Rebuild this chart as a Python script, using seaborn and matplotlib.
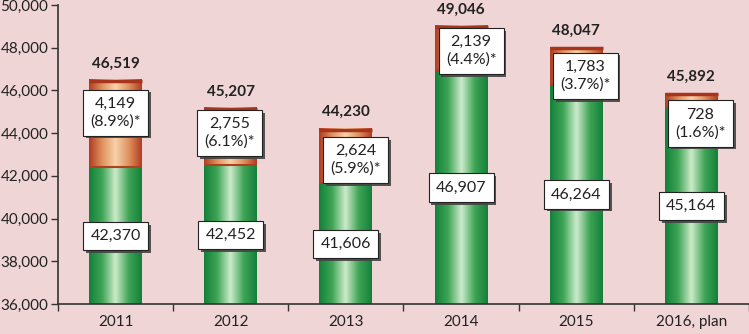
import numpy as np
import pandas as pd
import matplotlib
matplotlib.use("Agg")
import matplotlib.pyplot as plt
import matplotlib.patheffects as pe
from matplotlib.colors import LinearSegmentedColormap
from matplotlib.ticker import FuncFormatter, MultipleLocator
import seaborn as sns

years = ["2011", "2012", "2013", "2014", "2015", "2016, plan"]
base = [42370, 42452, 41606, 46907, 46264, 45164]
increment = [4149, 2755, 2624, 2139, 1783, 728]
totals = [46519, 45207, 44230, 49046, 48047, 45892]
shares = ["8.9%", "6.1%", "5.9%", "4.4%", "3.7%", "1.6%"]

# label nudges (pixels) for the increment boxes, as placed in the original
inc_dx = [0, -1, 10, 10, 9, 9]
inc_dy = [11, 4, -4, -3, -10, -23]

df = pd.DataFrame({"year": years, "base": base, "total": totals})

sns.set_theme(style="white")
plt.rcParams["font.family"] = ["Lato", "DejaVu Sans"]

bg = "#EFD5D5"
fig = plt.figure(figsize=(7.49, 3.34), dpi=100, facecolor=bg)
ax = fig.add_axes([0.0774, 0.0898, 0.9226, 0.8952])
ax.set_facecolor(bg)

sns.barplot(data=df, x="year", y="total", color="#E08850", width=0.46, ax=ax)
sns.barplot(data=df, x="year", y="base", color="#2E9A4A", width=0.46, ax=ax)

ymin, ymax = 36000, 50000
ax.set_ylim(ymin, ymax)
ax.set_xlim(-0.5, 5.5)

green_cmap = LinearSegmentedColormap.from_list(
    "g", ["#13803A", "#3FA556", "#CDEBCB", "#3FA556", "#13803A"])
orange_cmap = LinearSegmentedColormap.from_list(
    "o", ["#B03C22", "#E0925F", "#F8D2AA", "#E0925F", "#B03C22"])

n = len(years)
patches = list(ax.patches)
grad = np.linspace(0, 1, 256).reshape(1, -1)
for i, p in enumerate(patches):
    x0 = p.get_x()
    w = p.get_width()
    y0 = max(p.get_y(), ymin)
    h = p.get_height()
    top = p.get_y() + h
    cmap = orange_cmap if i < n else green_cmap
    p.set_facecolor("none")
    p.set_edgecolor("none")
    im = ax.imshow(grad, cmap=cmap, aspect="auto",
                   extent=[x0, x0 + w, y0, top], zorder=2,
                   interpolation="bicubic")
    im.set_clip_path(p)
    if i < n:
        ax.plot([x0, x0 + w], [top - 60, top - 60], color="#A8341C",
                lw=2.5, zorder=3, solid_capstyle="butt")
        ax.plot([x0, x0 + w], [base[i] + 40, base[i] + 40], color="#B0401E",
                lw=1.5, zorder=3, solid_capstyle="butt")

ax.set_xlim(-0.5, 5.5)
ax.set_ylim(ymin, ymax)

ax.yaxis.set_major_locator(MultipleLocator(2000))
ax.yaxis.set_major_formatter(FuncFormatter(lambda v, _: f"{int(v):,}"))
ax.set_xticks(range(n))
ax.set_xticklabels(years)
ax.set_xticks(np.arange(-0.5, n, 1.0), minor=True)
ax.tick_params(axis="x", which="major", bottom=False, length=0, pad=8,
               labelsize=11, colors="#222222")
ax.tick_params(axis="x", which="minor", bottom=True, length=5, width=1,
               color="#333333", direction="out")
ax.tick_params(axis="y", left=True, length=5, width=1, color="#333333",
               direction="out", labelsize=11, labelcolor="#222222", pad=2)
ax.set_xlabel("")
ax.set_ylabel("")
for s in ["top", "right"]:
    ax.spines[s].set_visible(False)
for s in ["left", "bottom"]:
    ax.spines[s].set_color("#333333")
    ax.spines[s].set_linewidth(1.2)
    ax.spines[s].set_zorder(5)

shadow = [pe.withSimplePatchShadow(offset=(2, -2), shadow_rgbFace="#444444",
                                   alpha=0.9)]
box = dict(boxstyle="square,pad=0.45", facecolor="white", edgecolor="#222222",
           linewidth=0.8)

for i in range(n):
    yb = (ymin + base[i]) / 2
    t = ax.annotate(f"{base[i]:,}", (i, yb), ha="center", va="center",
                    fontsize=11.5, color="#222222", bbox=box, zorder=6)
    t.get_bbox_patch().set_path_effects(shadow)
    yi = base[i] + increment[i] / 2
    t2 = ax.annotate(f"{increment[i]:,}\n({shares[i]})*", (i, yi),
                     xytext=(inc_dx[i], inc_dy[i]), textcoords="offset pixels",
                     ha="center", va="center", fontsize=11.5,
                     color="#222222", bbox=box, zorder=6, linespacing=1.3)
    t2.get_bbox_patch().set_path_effects(shadow)
    ax.annotate(f"{totals[i]:,}", (i, totals[i]), xytext=(0, 12),
                textcoords="offset pixels", ha="center", va="baseline",
                fontsize=11, fontweight="bold", color="#222222",
                annotation_clip=False, zorder=6)

fig.savefig("out.png", dpi=100, facecolor=bg)
